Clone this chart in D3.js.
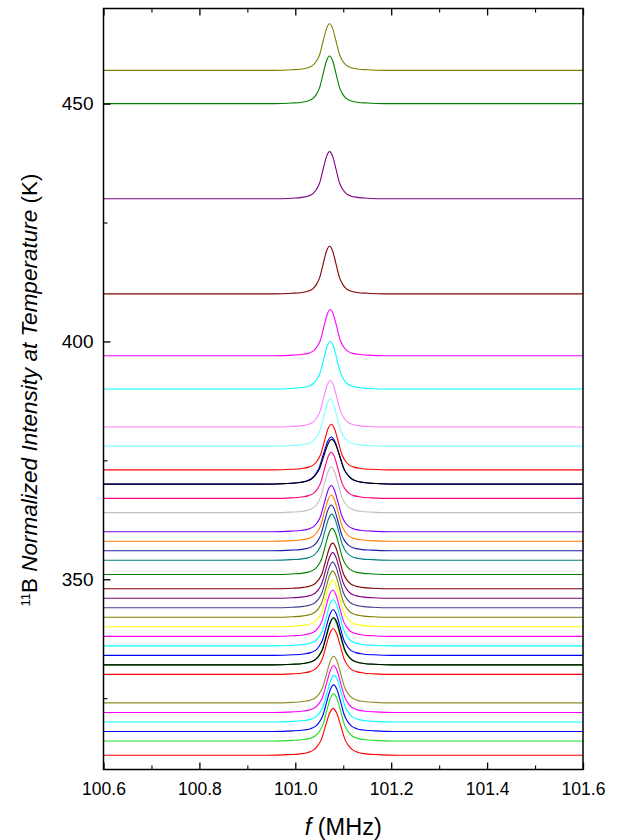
<!DOCTYPE html>
<html><head><meta charset="utf-8">
<script src="https://cdn.jsdelivr.net/npm/d3@7"></script>
<style>body{margin:0;background:#fff}svg{display:block}text{font-family:"Liberation Sans",Arial,sans-serif;fill:#000}</style>
</head><body><svg id="c" width="621" height="840"></svg>
<script>
// Temperatures (baseline offsets, K) of each 11B spectrum, top to bottom
const temps = [457,450,430,410,397,390,382,378,373,370,370,367,364,360,358,356,354,351,348,346,344,342,340,338,336,334,332,332,330,324,322,320,318,316,313];
const colors = ["#808000","#008000","#800080","#800000","#ff00ff","#00ffff","#ff80ff","#80ffff","#ff0000","#0000ff","#000000","#ff0080","#c0c0c0","#8000ff","#ff8000","#1c1ca8","#008080","#008000","#800000","#800080","#40408f","#808000","#ffff00","#ff00ff","#00ffff","#0000ff","#00b000","#000000","#ff0000","#8f8f2a","#ff00ff","#00ffff","#0000ff","#22dd22","#ff0000"];
// peak centre (MHz), width factor and peak height (K units) read per spectrum
const centers = [101.0715,101.0715,101.0715,101.0715,101.073,101.073,101.073,101.073,101.075,101.075,101.076,101.075,101.075,101.075,101.075,101.075,101.076,101.077,101.078,101.078,101.078,101.078,101.078,101.078,101.079,101.079,101.079,101.080,101.079,101.080,101.080,101.081,101.080,101.080,101.079];
const widths = [1.05,1.05,1.05,1.05,1.05,1.08,1.08,1.08,1.12,1.3,1.3,1.12,1.12,1.12,1.12,1.12,1.12,1.12,1.12,1.12,1.12,1.12,1.12,1.12,1.12,1.12,1.15,1.15,1.15,1.15,1.15,1.15,1.15,1.15,1.25];
const heights = [9.8,10.0,9.9,10.0,9.7,10.0,9.8,9.9,9.6,9.9,9.4,9.7,9.6,9.7,9.7,9.6,9.7,9.7,9.6,9.6,9.6,9.7,9.8,9.7,9.7,9.6,9.8,9.9,9.6,9.8,9.8,9.8,9.8,9.9,9.8];
// common normalized line shape: offset (MHz), intensity
const shapeOffsets = [-0.11,-0.075,-0.055,-0.042,-0.033,-0.026,-0.02,-0.0125,-0.006,0,0.006,0.0125,0.02,0.026,0.033,0.042,0.055,0.075,0.11];
const shapeValues  = [0,0.012,0.03,0.06,0.11,0.2,0.33,0.64,0.9,1,0.9,0.64,0.33,0.2,0.11,0.06,0.03,0.012,0];
const xTicks = [100.6,100.8,101.0,101.2,101.4,101.6];
const xMinor = [100.7,100.9,101.1,101.3,101.5];
const yTicks = [350,400,450];
const yMinor = [325,375,425];

const svg = d3.select("#c");
const L=103.5,R=583,T=8.5,B=769.5;
const x = d3.scaleLinear().domain([100.6,101.6]).range([L,R]);
const y = d3.scaleLinear().domain([310,470]).range([B,T]);

svg.append("clipPath").attr("id","clip").append("rect").attr("x",L).attr("y",T).attr("width",R-L).attr("height",B-T);
const line = d3.line().x(d=>x(d[0])).y(d=>y(d[1])).curve(d3.curveMonotoneX);
const g = svg.append("g").attr("clip-path","url(#clip)");
temps.forEach((t,i)=>{
  const pts = [[100.6,t]];
  shapeOffsets.forEach((o,k)=>pts.push([centers[i]+o*widths[i], t+heights[i]*shapeValues[k]]));
  pts.push([101.6,t]);
  g.append("path").attr("d",line(pts)).attr("fill","none").attr("stroke",colors[i]).attr("stroke-width",1.1);
});

// axes (ticks inward)
const fmt = d3.format(".1f");
svg.append("g").attr("transform",`translate(0,${B})`).call(d3.axisBottom(x).tickValues(xTicks).tickSize(-7).tickPadding(13).tickFormat(fmt))
  .call(a=>{a.select(".domain").remove();a.selectAll("text").attr("font-size",17.5);a.selectAll("line").attr("stroke-width",1.3);});
svg.append("g").attr("transform",`translate(0,${B})`).call(d3.axisBottom(x).tickValues(xMinor).tickSize(-4).tickFormat(""))
  .call(a=>{a.select(".domain").remove();a.selectAll("line").attr("stroke-width",1.1);});
svg.append("g").attr("transform",`translate(0,${T})`).call(d3.axisTop(x).tickValues(xTicks).tickSize(-7).tickFormat(""))
  .call(a=>{a.select(".domain").remove();a.selectAll("line").attr("stroke-width",1.3);});
svg.append("g").attr("transform",`translate(0,${T})`).call(d3.axisTop(x).tickValues(xMinor).tickSize(-4).tickFormat(""))
  .call(a=>{a.select(".domain").remove();a.selectAll("line").attr("stroke-width",1.1);});
svg.append("g").attr("transform",`translate(${L},0)`).call(d3.axisLeft(y).tickValues(yTicks).tickSize(-7).tickPadding(10).tickFormat(d3.format("d")))
  .call(a=>{a.select(".domain").remove();a.selectAll("text").attr("font-size",19);a.selectAll("line").attr("stroke-width",1.3);});
svg.append("g").attr("transform",`translate(${L},0)`).call(d3.axisLeft(y).tickValues(yMinor).tickSize(-4).tickFormat(""))
  .call(a=>{a.select(".domain").remove();a.selectAll("line").attr("stroke-width",1.1);});
svg.append("rect").attr("x",L).attr("y",T).attr("width",R-L).attr("height",B-T).attr("fill","none").attr("stroke","#000").attr("stroke-width",1.5);

// titles
const xt = svg.append("text").attr("x",(L+R)/2).attr("y",835).attr("text-anchor","middle").attr("font-size",23.5);
xt.append("tspan").attr("font-style","italic").text("f");
xt.append("tspan").text(" (MHz)");
const yt = svg.append("text").attr("transform","translate(37,390) rotate(-90)").attr("text-anchor","middle").attr("font-size",22.5);
yt.append("tspan").attr("font-size",13).attr("baseline-shift","super").text("11");
yt.append("tspan").text("B ");
yt.append("tspan").attr("font-style","italic").text("Normalized Intensity at Temperature");
yt.append("tspan").text(" (K)");
</script></body></html>
